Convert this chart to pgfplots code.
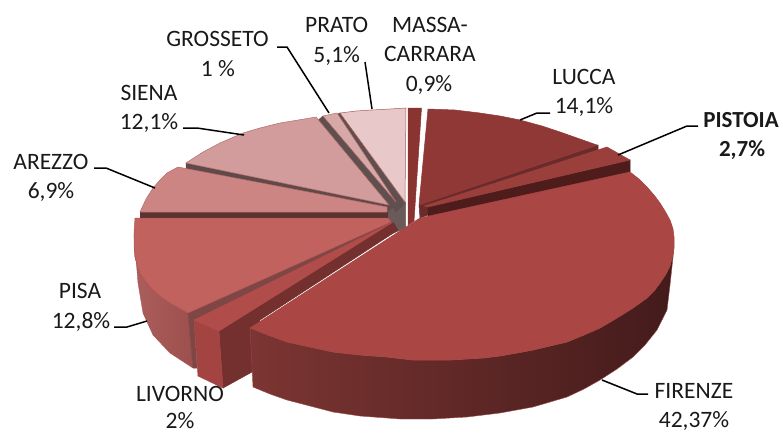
\documentclass[border=0pt]{standalone}
\usepackage{pgfplots}
\pgfplotsset{compat=1.18}
\usepackage{fontspec}
\setmainfont{Carlito}
\newcommand{\dc}[1]{\definecolor{#1}{HTML}{#1}}
\dc{8A3431}\dc{6A2B2A}\dc{8F3836}\dc{4F1C1C}\dc{9B3F3C}\dc{6A5A5A}\dc{5F4F4E}\dc{E8C8C8}\dc{A85A58}\dc{D6A9A8}\dc{B56A68}\dc{5F4A49}\dc{D19C9B}\dc{5A3231}\dc{CC8583}\dc{AB5E5C}\dc{9C4F4D}\dc{7E4644}\dc{C1625F}\dc{B05452}\dc{74302E}\dc{A34442}\dc{B04C49}\dc{7C3532}\dc{4E2020}\dc{431B1B}\dc{9A4A48}\dc{AA4744}\dc{A54542}
\newcommand{\poly}[3]{\addplot[fill=#1,draw=#2,line width=0.5pt,forget plot] coordinates {#3} --cycle;}
\newcommand{\lead}[1]{\addplot[black,line width=1.5pt,forget plot] coordinates {#1};}
\newcommand{\lab}[3]{\node[anchor=base,inner sep=0pt,font=\fontsize{23.5}{28}\selectfont,text=black!90] at (axis cs:#1,#2) {#3};}
\begin{document}
\begin{tikzpicture}
\begin{axis}[scale only axis,width=783pt,height=432pt,xmin=0,xmax=783,ymin=0,ymax=432,y dir=reverse,hide axis,clip=false,no markers]
\path (axis cs:0,0) rectangle (axis cs:783,432);
% Massa-Carrara
\poly{8A3431}{8A3431}{(408,108)(421.5,108)(414,221)(408,225)}
% Lucca
\poly{6A2B2A}{6A2B2A}{(419,205)(598,145)(598,151)(420,218)}
\poly{8F3836}{8F3836}{(428,109)(455,110)(480,113)(500,116)(520,120)(542,126)(563,133)(580,139)(597,145)(419,205)}
% Pistoia
\poly{4F1C1C}{4F1C1C}{(428,207)(630,160)(630,172)(428,219)}
\poly{9B3F3C}{9B3F3C}{(607,147)(630,160)(428,207)(424,206)}
% central walls
\poly{6A5A5A}{6A5A5A}{(388,204)(405.7,202)(405.7,228)(391,234)(388,222)}
% Prato
\poly{5F4F4E}{5F4F4E}{(340,113)(405,203)(396,212)(330,118)}
\poly{E8C8C8}{A85A58}{(340,113)(356,111)(372,110)(390,109)(406,108)(405,202)}
% Grosseto
\poly{5F4F4E}{5F4F4E}{(323,116)(397,202)(388,212)(316,122)}
\poly{D6A9A8}{B56A68}{(323,116)(337,113)(396,202)}
% Siena
\poly{5F4A49}{5F4A49}{(186,163)(390,205)(388,213)(186,169)}
\poly{D19C9B}{B56A68}{(186,163)(203,152)(220,143)(243,133)(260,128)(280,123)(298,120)(316,117)(389,205)}
% Arezzo
\poly{5A3231}{5A3231}{(140,212)(387,212)(387,217)(140,217)}
\poly{CC8583}{B56A68}{(140,212)(146,199)(153,188)(160,180)(167,173)(178,167)(387,207)(387,212)}
% Livorno wall and Pisa wall
\addplot[left color=AB5E5C,right color=9C4F4D,draw=A85A58,line width=0.4pt,forget plot] coordinates {(134,233)(135,257)(140,273)(153,290)(170,303)(188,313)(193,368)(170,353)(153,335)(143,313)(138,283)} --cycle;
\poly{7E4644}{7E4644}{(188,313)(391,222)(393,228)(194,320)(197,368)(193,368)}
\poly{C1625F}{B05452}{(135,218)(388,218)(391,222)(188,313)(170,303)(161,297)(153,290)(146,282)(140,273)(137,265)(135,257)(134,245)(134,233)}
\poly{74302E}{74302E}{(219,331)(223,388)(252,372)(260,320)(398,230)(393,222)}
\poly{A34442}{A34442}{(194,320)(219,331)(223,388)(198,376)}
\poly{B04C49}{B04C49}{(194,320)(393,222)(219,331)}
% Firenze
\addplot[left color=7C3532,middle color=4E2020,right color=431B1B,draw=9A4A48,line width=0.4pt,forget plot] coordinates {(250,328)(253,387)(270,394)(287,400)(310,406)(333,412)(360,416)(387,418)(400,419)(433,419)(467,417)(500,413)(533,407)(550,402)(567,397)(584,389)(600,380)(617,369)(633,357)(645,345)(657,330)(662,320)(667,310)(670,285)(674,248)(672,258)(670,266)(666,274)(660,283)(654,291)(647,298)(640,303)(633,308)(617,318)(600,328)(584,335)(567,342)(550,346)(533,350)(517,353)(500,356)(483,358)(467,359)(450,360)(433,360)(413,360)(387,357)(360,355)(333,352)(310,347)(287,342)(268,335)} --cycle;
\poly{AA4744}{A54542}{(420,218)(630,172)(639,179)(647,187)(654,195)(660,203)(665,211)(670,220)(673,229)(674,237)(674,248)(672,258)(670,266)(666,274)(660,283)(654,291)(647,298)(640,303)(633,308)(617,318)(600,328)(584,335)(567,342)(550,346)(533,350)(517,353)(500,356)(483,358)(467,359)(450,360)(433,360)(413,360)(387,357)(360,355)(333,352)(310,347)(287,342)(268,335)(250,328)}
% Leaders
\lead{(277,47)(287,47)(329,113)}
\lead{(365,62)(372,109)}
\lead{(183,128)(197,128)(244,135)}
\lead{(94,168)(106,168)(155,188)}
\lead{(550,113)(537,113)(520,120)}
\lead{(698,126)(687,126)(618,155)}
\lead{(114,327)(127,327)(147,321)}
\lead{(602,380)(637,394)(648,394)}
% Labels
\lab{217.5}{46.7}{GROSSETO}\lab{218}{76}{1 \%}
\lab{336.7}{32}{PRATO}\lab{336.7}{62}{5,1\%}
\lab{149}{100}{SIENA}\lab{149}{129}{12,1\%}
\lab{51}{169}{AREZZO}\lab{51}{198}{6,9\%}
\lab{430}{32}{MASSA-}\lab{430}{61}{CARRARA}\lab{429}{91}{0,9\%}
\lab{584}{84}{LUCCA}\lab{584}{113}{14,1\%}
\lab{741}{127}{\fontsize{23}{28}\selectfont\bfseries PISTOIA}\lab{742}{156}{\fontsize{23}{28}\selectfont\bfseries 2,7\%}
\lab{80}{298}{PISA}\lab{81}{328}{12,8\%}
\lab{180}{401}{LIVORNO}\lab{180}{428}{2\%}
\lab{694}{398}{FIRENZE}\lab{694}{427}{42,37\%}
\end{axis}
\end{tikzpicture}
\end{document}
